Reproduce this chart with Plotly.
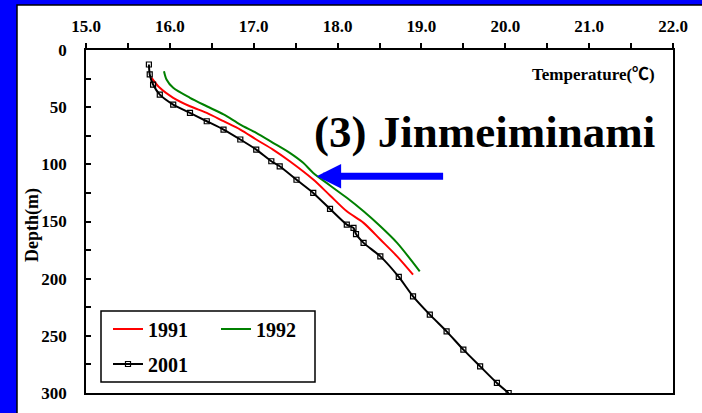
import plotly.graph_objects as go

# ---------------- data ----------------
temp_1991 = [15.78, 15.88, 16.04, 16.24, 16.44, 16.64, 16.84, 17.03, 17.23, 17.43,
             17.71, 17.91, 18.11, 18.31, 18.51, 18.71, 18.90]
depth_1991 = [24.1, 33.1, 41.8, 49.2, 55.0, 62.3, 69.6, 78.3, 87.1, 97.3,
              113.3, 127.2, 141.1, 151.2, 165.8, 180.5, 196.5]

temp_1992 = [15.93, 15.96, 16.04, 16.24, 16.44, 16.64, 16.84, 17.03, 17.23, 17.43,
             17.59, 17.71, 17.91, 18.11, 18.31, 18.51, 18.71, 18.98]
depth_1992 = [18.6, 25.8, 33.1, 41.8, 49.2, 56.4, 65.2, 72.5, 81.2, 90.0,
              98.7, 107.5, 118.5, 129.3, 141.1, 154.2, 168.7, 193.6]

temp_2001 = [15.75, 15.76, 15.80, 15.88, 16.04, 16.24, 16.44, 16.64, 16.84, 17.03,
             17.21, 17.31, 17.51, 17.71, 17.91, 18.11, 18.19, 18.22, 18.31, 18.51,
             18.73, 18.90, 19.10, 19.30, 19.50, 19.70, 19.90, 20.04]
depth_2001 = [12.7, 21.4, 30.2, 39.0, 47.7, 55.0, 62.3, 69.6, 78.3, 87.1,
              97.3, 101.7, 113.5, 125.0, 139.0, 152.7, 155.6, 161.0, 168.7, 180.5,
              198.5, 215.5, 231.5, 246.1, 262.1, 276.7, 291.2, 300.0]

series_names = ["1991", "1992", "2001"]
x_range = [15, 22]
y_range = [300, 0]
x_tick_step = 1.0
y_tick_step = 50

title_text = "(3) Jinmeiminami"
x_label = "Temperature(℃)"
y_label = "Depth(m)"

FONT = "Liberation Serif, Times New Roman, serif"

fig = go.Figure()
fig.add_trace(go.Scatter(x=temp_1991, y=depth_1991, name=series_names[0], mode="lines",
                         line=dict(color="#FF0000", width=2, shape="spline", smoothing=0.8),
                         legend="legend"))
fig.add_trace(go.Scatter(x=temp_1992, y=depth_1992, name=series_names[1], mode="lines",
                         line=dict(color="#008000", width=2, shape="spline", smoothing=0.8),
                         legend="legend2"))
fig.add_trace(go.Scatter(x=temp_2001, y=depth_2001, name=series_names[2], mode="lines+markers",
                         line=dict(color="#000000", width=2, shape="spline", smoothing=0.6),
                         marker=dict(symbol="square-open", size=5, color="#000000",
                                     line=dict(width=1.2, color="#000000")),
                         legend="legend3"))

W, H = 702, 413
L, R, T, B = 86, 29, 50, 20
pw, ph = W - L - R, H - T - B


def px2paper_x(px):
    return (px - L) / pw


def px2paper_y(py):
    return (H - B - py) / ph


tick_font = dict(family=FONT, size=17, color="black", weight="bold")
leg_font = dict(family=FONT, size=20, color="black", weight="bold")


def leg(px, py):
    return dict(xref="paper", yref="paper", x=px2paper_x(px), y=px2paper_y(py),
                xanchor="left", yanchor="middle", bgcolor="rgba(0,0,0,0)",
                borderwidth=0, font=leg_font)


fig.update_layout(
    width=W, height=H,
    margin=dict(l=L, r=R, t=T, b=B, autoexpand=False),
    paper_bgcolor="#0000FF",
    plot_bgcolor="white",
    xaxis=dict(range=x_range, side="top", dtick=x_tick_step, tickformat=".1f",
               ticks="outside", ticklen=5, tickwidth=1.5, tickcolor="black",
               minor=dict(dtick=0.5, ticks="outside", ticklen=5, tickwidth=1.5, tickcolor="black"),
               showline=True, linecolor="black", linewidth=1.5, mirror=True,
               showgrid=False, zeroline=False, tickfont=tick_font, ticklabelstandoff=4),
    xaxis2=dict(range=x_range, side="top", overlaying="x", matches="x", anchor="y",
                dtick=x_tick_step, ticks="inside", ticklen=5, tickwidth=1.5, tickcolor="black",
                minor=dict(dtick=0.5, ticks="inside", ticklen=5, tickwidth=1.5, tickcolor="black"),
                showticklabels=False, showline=False, showgrid=False, zeroline=False),
    yaxis=dict(range=y_range, dtick=y_tick_step,
               ticks="inside", ticklen=5, tickwidth=1.5, tickcolor="black",
               minor=dict(dtick=25, ticks="inside", ticklen=5, tickwidth=1.5, tickcolor="black"),
               showline=True, linecolor="black", linewidth=1.5, mirror=True,
               showgrid=False, zeroline=False, tickfont=tick_font, ticklabelstandoff=14),
    showlegend=True,
    legend=leg(108, 329),
    legend2=leg(216, 329),
    legend3=leg(108, 364),
)

# white page area with thin black edge, and the legend frame
fig.add_shape(type="rect", xref="paper", yref="paper",
              x0=px2paper_x(17), x1=px2paper_x(720), y0=px2paper_y(430), y1=px2paper_y(5),
              fillcolor="white", line=dict(color="black", width=1.5), layer="below")
fig.add_shape(type="rect", xref="paper", yref="paper",
              x0=px2paper_x(101), x1=px2paper_x(315), y0=px2paper_y(382), y1=px2paper_y(311),
              fillcolor="rgba(0,0,0,0)", line=dict(color="black", width=1.5), layer="above")

# texts
fig.add_annotation(text=title_text, x=21.81, y=72, xref="x", yref="y",
                   xanchor="right", yanchor="middle", showarrow=False,
                   font=dict(family=FONT, size=45, color="black", weight="bold"))
fig.add_annotation(text=x_label, x=21.81, y=21.4, xref="x", yref="y",
                   xanchor="right", yanchor="middle", showarrow=False,
                   font=dict(family=FONT + ", Noto Sans CJK JP", size=17, color="black", weight="bold"))
fig.add_annotation(text=y_label, x=px2paper_x(32), y=px2paper_y(225), xref="paper", yref="paper",
                   xanchor="center", yanchor="middle", textangle=-90, showarrow=False,
                   font=dict(family=FONT, size=18, color="black", weight="bold"))
# blue arrow
fig.add_annotation(text="", x=17.75, y=110.4, xref="x", yref="y",
                   ax=128, ay=0, showarrow=True, arrowcolor="#0000FF",
                   arrowwidth=7, arrowhead=2, arrowsize=0.7)

fig.write_html("out.html")
